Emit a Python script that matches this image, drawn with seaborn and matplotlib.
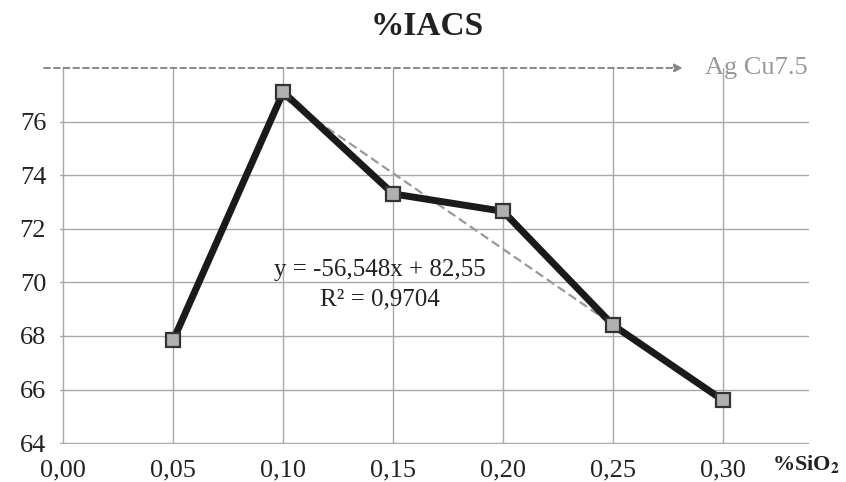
import numpy as np
import pandas as pd
import matplotlib
matplotlib.use("Agg")
import matplotlib.pyplot as plt
import seaborn as sns

# data
sio2 = [0.05, 0.10, 0.15, 0.20, 0.25, 0.30]
iacs = [67.85, 77.1, 73.3, 72.65, 68.4, 65.6]
x_ticks = [0.00, 0.05, 0.10, 0.15, 0.20, 0.25, 0.30]
x_labels = ["0,00", "0,05", "0,10", "0,15", "0,20", "0,25", "0,30"]
y_ticks = [64, 66, 68, 70, 72, 74, 76]
trend_slope = -56.548
trend_icpt = 82.55
trend_x = [0.10, 0.30]
ref_value = 78
ref_label = "Ag Cu7.5"

df = pd.DataFrame({"sio2": sio2, "iacs": iacs})

sns.set_theme(style="white")
plt.rcParams["font.family"] = ["Liberation Serif", "DejaVu Serif"]
plt.rcParams["mathtext.fontset"] = "stix"

fig = plt.figure(figsize=(8.46, 4.82), dpi=100)
ax = fig.add_axes([0.071, 0.079, 0.885, 0.78])

# trendline (dashed grey), drawn under the series
tx = np.array(trend_x)
ax.plot(tx, trend_slope * tx + trend_icpt, ls=(0, (4, 2)), color="#999999",
        lw=1.6, zorder=2)

sns.lineplot(data=df, x="sio2", y="iacs", ax=ax, color="#1a1a1a", lw=5,
             marker="s", markersize=10, markerfacecolor="#b0b0b0",
             markeredgecolor="#333333", markeredgewidth=1.6, zorder=3)

ax.set_xlim(-0.0015, 0.339)
ax.set_ylim(63.97, 78)
ax.set_xticks(x_ticks)
ax.set_xticklabels(x_labels)
ax.set_yticks(y_ticks)
ax.tick_params(axis="both", length=7, width=1.0, color="#a8a8a8",
               labelsize=19, labelcolor="#222222")
ax.tick_params(axis="x", pad=4)
ax.tick_params(axis="y", pad=3)
ax.grid(True, color="#a8a8a8", lw=1.0)
for s in ax.spines.values():
    s.set_visible(False)
ax.set_xlabel("")
ax.set_ylabel("")

# reference level arrow
ax.annotate("", xy=(0.283, ref_value), xytext=(-0.01, ref_value),
            arrowprops=dict(arrowstyle="-|>", color="#888888", lw=1.4,
                            ls=(0, (3, 2)), mutation_scale=12),
            annotation_clip=False)
ax.text(0.292, ref_value, ref_label, color="#999999", fontsize=19,
        va="center", ha="left", clip_on=False)

ax.text(0.144, 70.45, "y = -56,548x + 82,55", fontsize=18, ha="center",
        va="center", color="#222222")
ax.text(0.144, 69.35, "R² = 0,9704", fontsize=18, ha="center",
        va="center", color="#222222")

fig.text(0.505, 0.945, "%IACS", fontsize=24, fontweight="bold", ha="center",
         va="center", color="#222222")
fig.text(0.912, 0.038, "%SiO$_\\mathbf{2}$", fontsize=16, fontweight="bold",
         ha="left", va="center", color="#222222")

fig.savefig("out.png", dpi=100)
